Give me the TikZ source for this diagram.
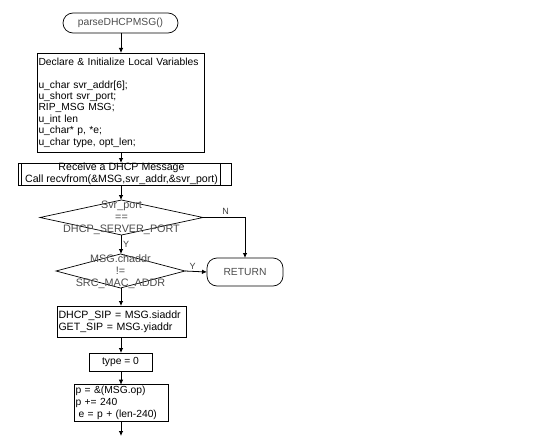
\documentclass[tikz,border=0pt]{standalone}
\usepackage{fontspec}
\setmainfont{Liberation Sans}
\usetikzlibrary{shapes.geometric,arrows.meta,calc}
\begin{document}
\begin{tikzpicture}[x=1pt,y=-1pt,
  font=\fontsize{10.3}{11.4}\selectfont,
  every node/.style={inner sep=0pt, outer sep=0pt},
  term/.style={draw, line width=0.7pt, rounded corners=10pt, text=black!70},
  boxnode/.style={draw, line width=0.7pt, align=left, inner sep=1.5pt, anchor=center},
  dia/.style={draw, diamond, line width=0.7pt, inner sep=0pt},
  diatext/.style={align=center, text=black!70, font=\fontsize{10.8}{12}\selectfont},
  arr/.style={line width=0.8pt, -{Latex[length=5pt,width=4.5pt]}},
  lab/.style={font=\fontsize{9}{10}\selectfont, text=black!75}
]
\useasboundingbox (0,0) rectangle (535,436);
\node[term, minimum width=115pt, minimum height=20pt] (start) at (120.5,23) {parseDHCPMSG()};
\node[boxnode, minimum width=167pt, minimum height=99pt, text width=164pt] (decl) at (120.5,102.5)
 {Declare \& Initialize Local Variables\\[11.4pt]
  u\_char svr\_addr[6];\\u\_short svr\_port;\\RIP\_MSG MSG;\\u\_int len\\u\_char* p, *e;\\u\_char type, opt\_len;};
\node[draw, line width=0.7pt, minimum width=213pt, minimum height=22pt] (recv) at (124.5,174) {};
\node[align=center, font=\fontsize{10.6}{12}\selectfont] (recvt) at (121.5,174)
 {Receive a DHCP Message\\Call recvfrom(\&MSG,svr\_addr,\&svr\_port)};
\draw[line width=0.7pt] ($(recv.north west)+(3,0)$) -- ($(recv.south west)+(3,0)$);
\draw[line width=0.7pt] ($(recv.north east)+(-11,0)$) -- ($(recv.south east)+(-11,0)$);
\node[dia, minimum width=163pt, minimum height=35pt] (d1) at (121.5,217.5) {};
\node[diatext] (d1t) at (121.5,217.5) {Svr\_port\\==\\DHCP\_SERVER\_PORT};
\node[dia, minimum width=129pt, minimum height=34pt] (d2) at (120.5,271) {};
\node[diatext] (d2t) at (120.5,272) {MSG.chaddr\\!=\\SRC\_MAC\_ADDR};
\node[term, minimum width=76pt, minimum height=28pt] (ret) at (245,272) {RETURN};
\node[boxnode, minimum width=129pt, minimum height=31pt, text width=126pt, font=\fontsize{10.6}{11.6}\selectfont] (sip) at (121.5,321.5)
 {DHCP\_SIP = MSG.siaddr\\GET\_SIP = MSG.yiaddr};
\node[draw, line width=0.7pt, minimum width=63pt, minimum height=18pt] (type) at (120.5,362) {type = 0};
\node[boxnode, minimum width=94pt, minimum height=36pt, text width=91pt, font=\fontsize{10.3}{12}\selectfont] (pbox) at (121,403)
 {p = \&(MSG.op)\\p += 240\\\hspace*{3pt}e = p + (len-240)};
\coordinate (endp) at (121,436);

\draw[arr] (start.south -| 121,0) -- (decl.north -| 121,0);
\draw[arr] (decl.south -| 121,0) -- (recv.north -| 121,0);
\draw[arr] (recv.south -| 121,0) -- (d1.north -| 121,0);
\draw[arr] (d1.east) -| (ret.north) node[lab, pos=0.27, above=3pt] {N};
\draw[arr] (d1.south -| 121,0) -- (d2.north -| 121,0) node[lab, midway, right=2pt] {Y};
\draw[arr] (d2.east) -- (ret.west) node[lab, pos=0.35, above=2pt] {Y};
\draw[arr] (d2.south -| 121,0) -- (sip.north -| 121,0);
\draw[arr] (sip.south -| 121,0) -- (type.north -| 121,0);
\draw[arr] (type.south -| 121,0) -- (pbox.north -| 121,0);
\draw[arr] (pbox.south -| 121,0) -- (endp);
\end{tikzpicture}
\end{document}
